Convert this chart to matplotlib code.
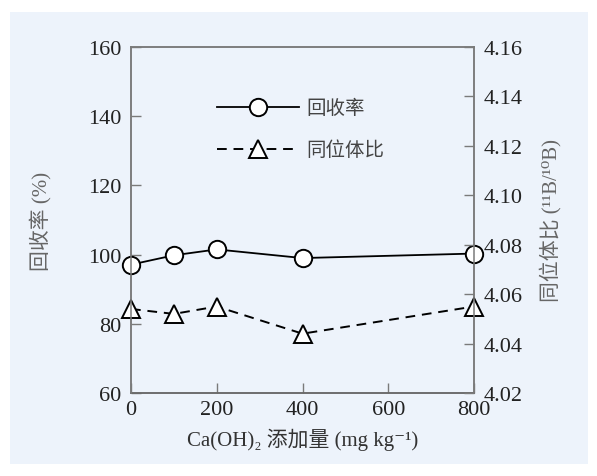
import numpy as np
import matplotlib
matplotlib.use('Agg')
from matplotlib import pyplot as plt
from matplotlib.patches import Rectangle

plt.rcParams['font.family'] = ['Liberation Serif', 'Noto Sans CJK SC', 'DejaVu Serif']

#Daten
dose = [0, 100, 200, 400, 800]
recovery = [97.1, 99.8, 101.5, 99.0, 100.3]
ratio = [4.054, 4.052, 4.055, 4.044, 4.055]

yticks_left = [60, 80, 100, 120, 140, 160]
yticks_right = [4.02, 4.04, 4.06, 4.08, 4.10, 4.12, 4.14, 4.16]
xticks = [0, 200, 400, 600, 800]

bg = '#edf3fb'
spinecol = '#7a7a7a'

fig = plt.figure(figsize=(5.97, 4.77), dpi=100)
fig.patch.set_facecolor('white')
fig.patches.append(Rectangle((10/597, 12/477), 578/597, 452/477, transform=fig.transFigure,
                             facecolor=bg, edgecolor='none', zorder=-10))

ax1 = fig.add_axes([131/597, 1-394/477, 343/597, 346/477])
ax1.set_facecolor(bg)
ax2 = ax1.twinx()

l1, = ax1.plot(dose, recovery, '-', color='black', lw=1.3, marker='o', ms=12.5,
               mfc='white', mec='black', mew=1.4, label='回收率', clip_on=False, zorder=5)
l2, = ax2.plot(dose, ratio, '--', color='black', lw=1.4, marker='^', ms=13.5,
               mfc='white', mec='black', mew=1.4, label='同位体比', clip_on=False,
               dashes=(5, 3.5))

ax1.set_xlim(0, 800)
ax1.set_ylim(60, 160)
ax2.set_ylim(4.02, 4.16)
ax1.set_xticks(xticks)
ax1.set_yticks(yticks_left)
ax2.set_yticks(yticks_right)
ax2.set_yticklabels(['%.2f' % v for v in yticks_right])

for a in (ax1, ax2):
    a.tick_params(direction='in', length=7, width=1, color=spinecol, labelsize=16,
                  labelcolor='#222222', pad=7)
    for s in a.spines.values():
        s.set_color(spinecol)
        s.set_linewidth(1.1)
ax1.spines['bottom'].set_color('#222222')
ax1.tick_params(axis='x', pad=5)

ax1.set_xlabel('Ca(OH)\u2082 添加量 (mg kg\u207b\u00b9)', fontsize=15, color='#333333', labelpad=6)
ax1.set_ylabel('回收率 (%)', fontsize=15, color='#666666', labelpad=26)
ax2.set_ylabel('同位体比 (\u00b9\u00b9B/\u00b9\u2070B)', fontsize=15, color='#666666', labelpad=12)

leg = ax1.legend([l1, l2], ['回收率', '同位体比'], loc='upper left',
                 bbox_to_anchor=(0.2, 0.9), frameon=False, fontsize=14,
                 handlelength=4.2, labelspacing=1.2, handletextpad=0.4)
for t in leg.get_texts():
    t.set_color('#444444')

fig.savefig('out.png', dpi=100, facecolor=fig.get_facecolor())
